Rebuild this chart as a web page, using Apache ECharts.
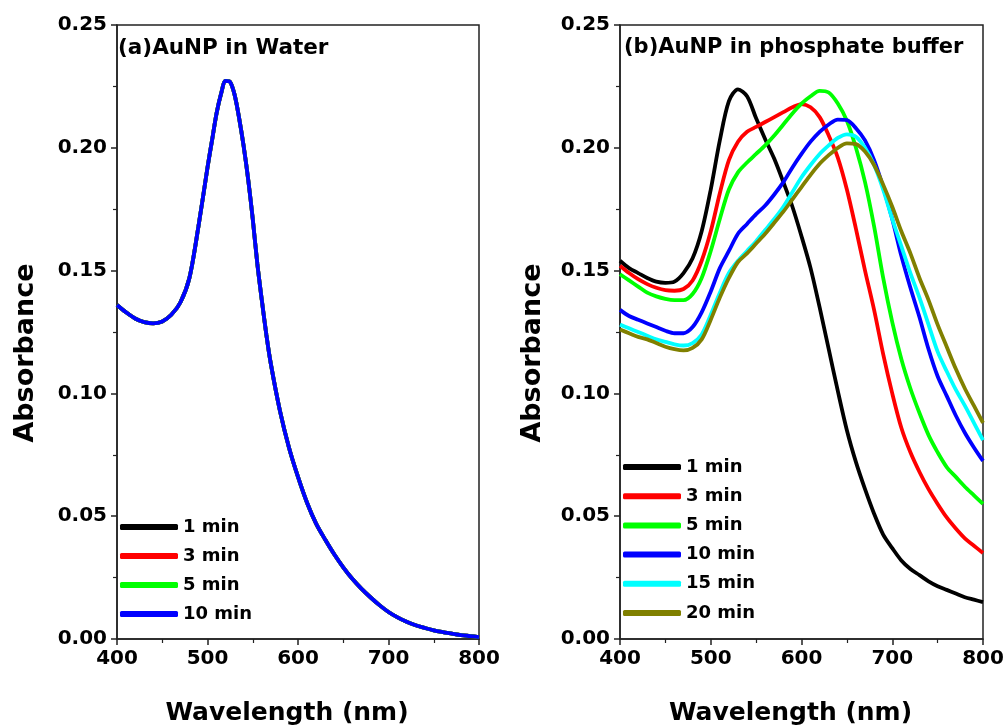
<!DOCTYPE html>
<html>
<head>
<meta charset="utf-8">
<script src="https://cdn.jsdelivr.net/npm/echarts@6/dist/echarts.min.js"></script>
<style>
html,body{margin:0;padding:0;background:#fff;}
#chart{width:1003px;height:727px;}
</style>
</head>
<body>
<div id="chart"></div>
<script>
// ---------- data ----------
const xTicks = [400, 500, 600, 700, 800];
const yTicks = [0.00, 0.05, 0.10, 0.15, 0.20, 0.25];

// (a) AuNP in water: wavelengths and absorbance (all four times overlap)
const waterWl = [400,410,420,430,440,450,460,470,480,490,500,505,510,515,520,525,530,535,540,545,550,555,560,565,570,580,590,600,610,620,630,640,650,660,670,680,690,700,710,720,730,740,750,760,770,780,790,800];
const water1min = [0.136,0.133,0.1305,0.129,0.1285,0.1293,0.132,0.137,0.147,0.168,0.192,0.203,0.214,0.222,0.2272,0.2268,0.2215,0.212,0.2005,0.187,0.171,0.153,0.138,0.124,0.112,0.093,0.078,0.066,0.0555,0.047,0.0405,0.0345,0.0292,0.0245,0.0205,0.017,0.0138,0.011,0.0088,0.007,0.0056,0.0045,0.0035,0.0028,0.0022,0.0016,0.0012,0.0008];
const water3min = water1min.slice();
const water5min = water1min.slice();
const water10min = water1min.slice();
const waterNames = ['1 min', '3 min', '5 min', '10 min'];

// (b) AuNP in phosphate buffer
const bufWl = [400,410,420,430,440,450,460,470,480,490,500,510,520,530,540,550,560,570,580,590,600,610,620,630,640,650,660,670,680,690,700,710,720,730,740,750,760,770,780,790,800];
const buf1min  = [0.154,0.151,0.149,0.147,0.1455,0.145,0.1455,0.149,0.155,0.166,0.183,0.203,0.219,0.2238,0.221,0.212,0.2035,0.1955,0.186,0.176,0.164,0.151,0.135,0.118,0.101,0.085,0.072,0.061,0.051,0.0425,0.037,0.032,0.0285,0.026,0.0235,0.0215,0.020,0.0185,0.017,0.016,0.015];
const buf3min  = [0.152,0.149,0.1465,0.1445,0.143,0.142,0.1418,0.1425,0.146,0.154,0.166,0.1815,0.195,0.2025,0.2065,0.2085,0.2105,0.2125,0.2145,0.2165,0.2178,0.2165,0.2125,0.205,0.196,0.183,0.167,0.150,0.134,0.116,0.100,0.086,0.076,0.068,0.061,0.055,0.0495,0.045,0.041,0.038,0.035];
const buf5min  = [0.1485,0.146,0.1435,0.141,0.1395,0.1385,0.138,0.138,0.1405,0.147,0.158,0.171,0.183,0.190,0.194,0.1975,0.201,0.205,0.2095,0.214,0.218,0.221,0.2232,0.2225,0.218,0.211,0.200,0.186,0.168,0.147,0.129,0.114,0.102,0.092,0.083,0.076,0.070,0.066,0.062,0.0585,0.055];
const buf10min = [0.134,0.1315,0.130,0.1285,0.127,0.1255,0.1245,0.1245,0.127,0.133,0.1415,0.151,0.158,0.165,0.169,0.173,0.1765,0.181,0.186,0.192,0.1975,0.2025,0.2065,0.2095,0.2115,0.2113,0.208,0.203,0.195,0.184,0.171,0.156,0.143,0.131,0.118,0.107,0.099,0.091,0.084,0.078,0.0725];
const buf15min = [0.128,0.1265,0.125,0.1235,0.122,0.121,0.120,0.1195,0.1205,0.124,0.132,0.141,0.149,0.154,0.158,0.162,0.1665,0.171,0.176,0.182,0.188,0.193,0.1975,0.201,0.204,0.2055,0.2045,0.200,0.193,0.183,0.171,0.160,0.149,0.139,0.128,0.117,0.109,0.1015,0.095,0.088,0.081];
const buf20min = [0.126,0.1245,0.123,0.122,0.1205,0.119,0.118,0.1175,0.1185,0.122,0.130,0.139,0.147,0.1535,0.157,0.161,0.165,0.1695,0.174,0.179,0.184,0.189,0.1935,0.197,0.200,0.2018,0.2015,0.1985,0.193,0.185,0.176,0.166,0.157,0.147,0.138,0.128,0.119,0.110,0.102,0.095,0.088];
const bufNames = ['1 min', '3 min', '5 min', '10 min', '15 min', '20 min'];

const waterColors = ['#000000', '#ff0000', '#00ff00', '#0000ff'];
const bufColors = ['#000000', '#ff0000', '#00ff00', '#0000ff', '#00ffff', '#808000'];

// ---------- helpers ----------
const FONT = 'DejaVu Sans';
function pairs(wl, vals) { return wl.map((w, i) => [w, vals[i]]); }

function xAxisCfg(gridIndex, namePad) {
  return {
    type: 'value', gridIndex: gridIndex, min: xTicks[0], max: xTicks[xTicks.length - 1], interval: 100,
    name: 'Wavelength (nm)', nameLocation: 'middle', nameGap: 62,
    nameTextStyle: { fontFamily: FONT, fontWeight: 'bold', fontSize: 25, color: '#000', padding: namePad },
    axisLine: { show: true, lineStyle: { color: '#222', width: 1.5 } },
    axisTick: { show: true, inside: false, length: 6, lineStyle: { color: '#222', width: 1.5 } },
    minorTick: { show: true, splitNumber: 2, length: 4, lineStyle: { color: '#222', width: 1.2 } },
    axisLabel: { fontFamily: FONT, fontWeight: 'bold', fontSize: 20, color: '#000', margin: 10 },
    splitLine: { show: false }
  };
}
function yAxisCfg(gridIndex, gap) {
  return {
    type: 'value', gridIndex: gridIndex, min: 0, max: 0.25, interval: 0.05,
    name: 'Absorbance', nameLocation: 'middle', nameGap: gap, nameRotate: 90,
    nameTextStyle: { fontFamily: FONT, fontWeight: 'bold', fontSize: 27, color: '#000', padding: [0, 42, 0, 0] },
    axisLine: { show: true, lineStyle: { color: '#222', width: 1.5 } },
    axisTick: { show: true, inside: false, length: 6, lineStyle: { color: '#222', width: 1.5 } },
    minorTick: { show: true, splitNumber: 2, length: 4, lineStyle: { color: '#222', width: 1.2 } },
    axisLabel: { fontFamily: FONT, fontWeight: 'bold', fontSize: 20, color: '#000', margin: 10,
      formatter: v => v.toFixed(2) },
    splitLine: { show: false }
  };
}
function lineSeries(name, color, data, idx) {
  return {
    type: 'line', name: name, xAxisIndex: idx, yAxisIndex: idx, data: data,
    showSymbol: false, symbol: 'none', smooth: 0.3,
    lineStyle: { color: color, width: 3.8 }, itemStyle: { color: color },
    z: 2, animation: false
  };
}

const waterData = [water1min, water3min, water5min, water10min];
const bufData = [buf1min, buf3min, buf5min, buf10min, buf15min, buf20min];

const series = [];
waterNames.forEach((n, i) => series.push(lineSeries(n, waterColors[i], pairs(waterWl, waterData[i]), 0)));
bufNames.forEach((n, i) => series.push(lineSeries(n + ' ', bufColors[i], pairs(bufWl, bufData[i]), 1)));

const chart = echarts.init(document.getElementById('chart'), null, { renderer: 'canvas' });
chart.setOption({
  backgroundColor: '#fff',
  animation: false,
  title: [
    { text: '(a)AuNP in Water', left: 118, top: 37,
      textStyle: { fontFamily: FONT, fontWeight: 'bold', fontSize: 21.5, color: '#000' }, padding: 0 },
    { text: '(b)AuNP in phosphate buffer', left: 624, top: 37,
      textStyle: { fontFamily: FONT, fontWeight: 'bold', fontSize: 21, color: '#000' }, padding: 0 }
  ],
  grid: [
    { left: 117, top: 25, width: 362, height: 614, show: true, borderColor: '#222', borderWidth: 1.5,
      backgroundColor: 'transparent', containLabel: false, outerBoundsMode: 'none' },
    { left: 620, top: 25, width: 363, height: 614, show: true, borderColor: '#222', borderWidth: 1.5,
      backgroundColor: 'transparent', containLabel: false, outerBoundsMode: 'none' }
  ],
  xAxis: [xAxisCfg(0, [0, 22, 0, 0]), xAxisCfg(1, [0, 22, 0, 0])],
  yAxis: [yAxisCfg(0, 78), yAxisCfg(1, 74)],
  legend: [
    { data: waterNames, orient: 'vertical', left: 120, top: 517, itemWidth: 58, itemHeight: 6, itemGap: 9,
      icon: 'roundRect', padding: 0,
      textStyle: { fontFamily: FONT, fontWeight: 'bold', fontSize: 18, color: '#000', lineHeight: 20 } },
    { data: bufNames.map(n => n + ' '), orient: 'vertical', left: 623, top: 457, itemWidth: 58, itemHeight: 6, itemGap: 9.2,
      icon: 'roundRect', padding: 0,
      textStyle: { fontFamily: FONT, fontWeight: 'bold', fontSize: 18, color: '#000', lineHeight: 20 } }
  ],
  series: series
});
</script>
</body>
</html>
